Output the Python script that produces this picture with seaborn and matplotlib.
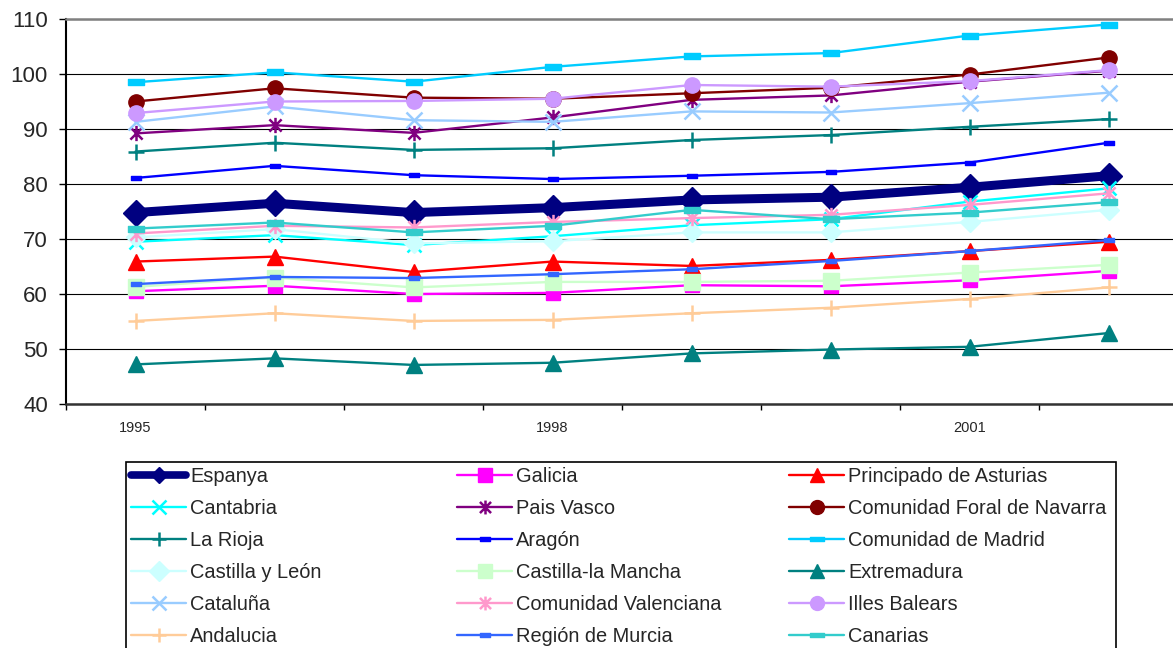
import numpy as np
import pandas as pd
import matplotlib
matplotlib.use("Agg")
import matplotlib.pyplot as plt
from matplotlib.lines import Line2D
from matplotlib.patches import Rectangle
from matplotlib.path import Path
import seaborn as sns

years = [1995, 1996, 1997, 1998, 1999, 2000, 2001, 2002]
year_labels = ["1995", "1998", "2001"]
y_ticks = [40, 50, 60, 70, 80, 90, 100, 110]

regions = [
    "Espanya", "Galicia", "Principado de Asturias",
    "Cantabria", "Pais Vasco", "Comunidad Foral de Navarra",
    "La Rioja", "Aragón", "Comunidad de Madrid",
    "Castilla y León", "Castilla-la Mancha", "Extremadura",
    "Cataluña", "Comunidad Valenciana", "Illes Balears",
    "Andalucia", "Región de Murcia", "Canarias",
]

espanya = [74.8, 76.5, 74.8, 75.7, 77.1, 77.6, 79.4, 81.5]
galicia = [60.5, 61.5, 60.0, 60.2, 61.6, 61.4, 62.5, 64.2]
asturias = [65.9, 66.8, 64.0, 65.9, 65.1, 66.2, 67.8, 69.5]
cantabria = [69.5, 70.7, 68.9, 70.5, 72.5, 73.6, 76.8, 79.2]
pais_vasco = [89.2, 90.7, 89.3, 92.1, 95.3, 96.1, 98.6, 100.6]
navarra = [95.0, 97.4, 95.7, 95.5, 96.5, 97.5, 99.9, 103.0]
la_rioja = [85.9, 87.5, 86.2, 86.5, 88.0, 88.9, 90.4, 91.8]
aragon = [81.1, 83.3, 81.6, 80.9, 81.5, 82.2, 83.9, 87.5]
madrid = [98.5, 100.3, 98.6, 101.3, 103.2, 103.8, 107.0, 109.0]
castilla_leon = [70.3, 71.8, 69.2, 69.6, 71.2, 71.2, 73.1, 75.3]
castilla_mancha = [61.3, 63.0, 61.2, 62.2, 62.2, 62.4, 63.9, 65.3]
extremadura = [47.2, 48.3, 47.1, 47.5, 49.2, 49.9, 50.4, 52.9]
cataluna = [91.3, 94.1, 91.6, 91.3, 93.2, 93.0, 94.7, 96.6]
valenciana = [71.0, 72.4, 72.1, 73.1, 73.8, 74.4, 76.2, 78.3]
balears = [92.9, 95.0, 95.1, 95.5, 98.0, 97.7, 98.7, 100.7]
andalucia = [55.1, 56.5, 55.1, 55.3, 56.5, 57.5, 59.1, 61.2]
murcia = [61.8, 63.1, 62.9, 63.6, 64.5, 66.0, 67.8, 69.8]
canarias = [71.9, 73.0, 71.2, 72.4, 75.3, 73.6, 74.8, 76.7]

series = [espanya, galicia, asturias, cantabria, pais_vasco, navarra,
          la_rioja, aragon, madrid, castilla_leon, castilla_mancha, extremadura,
          cataluna, valenciana, balears, andalucia, murcia, canarias]

colors = ["#000080", "#FF00FF", "#FF0000", "#00FFFF", "#800080", "#800000",
          "#008080", "#0000FF", "#00CCFF", "#CCFFFF", "#CCFFCC", "#008080",
          "#99CCFF", "#FF99CC", "#CC99FF", "#FFCC99", "#3366FF", "#33CCCC"]

# custom marker shapes: a short horizontal bar and an x-with-vertical asterisk
dash = Path([(-1, -0.35), (1, -0.35), (1, 0.35), (-1, 0.35), (-1, -0.35)],
            [Path.MOVETO, Path.LINETO, Path.LINETO, Path.LINETO, Path.CLOSEPOLY])
small_dash = Path([(-1, -0.45), (1, -0.45), (1, 0.45), (-1, 0.45), (-1, -0.45)],
                  [Path.MOVETO, Path.LINETO, Path.LINETO, Path.LINETO, Path.CLOSEPOLY])
star = Path([(-0.8, -0.8), (0.8, 0.8), (-0.8, 0.8), (0.8, -0.8), (0, -1), (0, 1)],
            [Path.MOVETO, Path.LINETO, Path.MOVETO, Path.LINETO, Path.MOVETO, Path.LINETO])

# (marker, size, edge width, line width)
styles = [
    ("D", 13.5, 1.0, 6.5),
    ("s", 9.5, 1.0, 1.7),
    ("^", 11, 1.0, 1.7),
    ("x", 10, 1.8, 1.7),
    (star, 11, 1.8, 1.7),
    ("o", 11, 1.0, 1.7),
    ("+", 12, 1.8, 1.7),
    (small_dash, 7, 1.0, 1.7),
    (dash, 11, 1.0, 1.7),
    ("D", 10, 1.0, 1.7),
    ("s", 11, 1.0, 1.7),
    ("^", 11, 1.0, 1.7),
    ("x", 11, 1.8, 1.7),
    (star, 11, 1.8, 1.7),
    ("o", 11, 1.0, 1.7),
    ("+", 12, 1.8, 1.7),
    (small_dash, 7, 1.0, 1.7),
    (dash, 11, 1.0, 1.7),
]

df = pd.DataFrame({name: vals for name, vals in zip(regions, series)}, index=years)
df.index.name = "year"
long_df = df.reset_index().melt(id_vars="year", var_name="region", value_name="value")

sns.set_style("white")
plt.rcParams["font.family"] = ["Liberation Sans", "DejaVu Sans"]

fig = plt.figure(figsize=(11.73, 6.48), dpi=100)
W, H = 1173, 648
ax = fig.add_axes([66 / W, 1 - 404 / H, (1178 - 66) / W, (404 - 19) / H])

for name, color, (mk, ms, mew, lw) in zip(regions, colors, styles):
    sub = long_df[long_df["region"] == name]
    sns.lineplot(data=sub, x="year", y="value", ax=ax, color=color, linewidth=lw,
                 marker=mk, markersize=ms, markeredgewidth=mew,
                 markerfacecolor=color, markeredgecolor=color,
                 errorbar=None, legend=False, zorder=3)

ax.set_xlim(years[0] - 0.5, years[-1] + 0.5)
ax.set_ylim(y_ticks[0], y_ticks[-1])
ax.set_yticks(y_ticks)
ax.set_yticklabels([str(v) for v in y_ticks])
ax.tick_params(axis="y", which="major", direction="out", length=5, width=1,
               color="black", labelsize=16, pad=8, left=True)

boundaries = np.arange(years[0] - 0.5, years[-1] + 0.51, 1.0)
ax.set_xticks(boundaries)
ax.set_xticklabels([])
ax.set_xticks([int(s) for s in year_labels], minor=True)
ax.set_xticklabels(year_labels, minor=True)
ax.tick_params(axis="x", which="major", direction="out", length=4, width=1,
               color="black", bottom=True)
ax.tick_params(axis="x", which="minor", length=0, labelsize=10.5, pad=12)

ax.set_xlabel("")
ax.set_ylabel("")
ax.yaxis.grid(True, color="black", linewidth=0.8, zorder=0)
ax.xaxis.grid(False)
ax.set_axisbelow(True)

ax.spines["left"].set_color("black")
ax.spines["left"].set_linewidth(1.5)
ax.spines["bottom"].set_color("#333333")
ax.spines["bottom"].set_linewidth(1.8)
ax.spines["top"].set_color("#808080")
ax.spines["top"].set_linewidth(1.8)
ax.spines["right"].set_visible(False)

# legend: three columns inside one framed box
legend_styles = list(styles)
legend_styles[0] = ("D", 8, 1.0, 5.5)
handles = []
for name, color, (mk, ms, mew, lw) in zip(regions, colors, legend_styles):
    handles.append(Line2D([], [], color=color, linewidth=lw, marker=mk,
                          markersize=min(ms, 10), markeredgewidth=mew,
                          markerfacecolor=color, markeredgecolor=color, label=name))

col_x = [131, 457, 789]
for c in range(3):
    hs = handles[c::3]
    fig.legend(handles=hs, labels=[h.get_label() for h in hs], loc="upper left",
               bbox_to_anchor=(col_x[c] / W, 1 - 467 / H), frameon=False,
               fontsize=14.4, handlelength=2.75, handletextpad=0.2,
               labelspacing=0.65, borderpad=0, borderaxespad=0)

fig.patches.append(Rectangle((126 / W, 1 - 700 / H), (1116 - 126) / W, (700 - 462) / H,
                             transform=fig.transFigure, fill=False,
                             edgecolor="black", linewidth=1.2))

fig.savefig("out.png", dpi=100, facecolor="white")
